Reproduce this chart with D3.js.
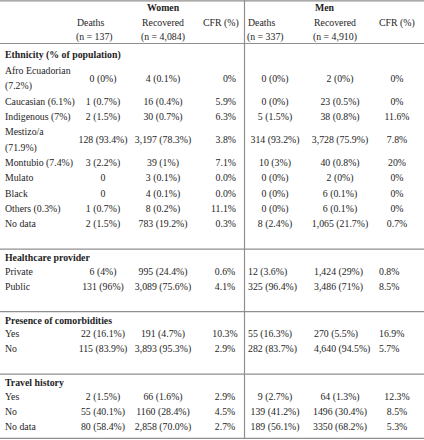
<!DOCTYPE html>
<html>
<head>
<meta charset="utf-8">
<script src="https://cdn.jsdelivr.net/npm/d3@7"></script>
<style>
  html, body { margin: 0; padding: 0; background: #fff; }
  svg { display: block; }
  text { font-family: "Liberation Serif", "Times New Roman", serif; font-size: 9.8px; fill: #1e1e1e; }
  .b { font-weight: bold; }
</style>
</head>
<body>
<svg id="chart" width="424" height="440"></svg>
<script>
// ---------- data ----------
const groups = ["Women", "Men"];
const measures = ["Deaths", "Recovered", "CFR (%)"];
const nLabels = ["(n = 137)", "(n = 4,084)", "", "(n = 337)", "(n = 4,910)", ""];
const sections = ["Ethnicity (% of population)", "Healthcare provider", "Presence of comorbidities", "Travel history"];

const ethnicityRows = ["Afro Ecuadorian (7.2%)", "Caucasian (6.1%)", "Indigenous (7%)", "Mestizo/a (71.9%)", "Montubio (7.4%)", "Mulato", "Black", "Others (0.3%)", "No data"];
const ethWomenDeaths = ["0 (0%)", "1 (0.7%)", "2 (1.5%)", "128 (93.4%)", "3 (2.2%)", "0", "0", "1 (0.7%)", "2 (1.5%)"];
const ethWomenRecovered = ["4 (0.1%)", "16 (0.4%)", "30 (0.7%)", "3,197 (78.3%)", "39 (1%)", "3 (0.1%)", "4 (0.1%)", "8 (0.2%)", "783 (19.2%)"];
const ethWomenCFR = ["0%", "5.9%", "6.3%", "3.8%", "7.1%", "0.0%", "0.0%", "11.1%", "0.3%"];
const ethMenDeaths = ["0 (0%)", "0 (0%)", "5 (1.5%)", "314 (93.2%)", "10 (3%)", "0 (0%)", "0 (0%)", "0 (0%)", "8 (2.4%)"];
const ethMenRecovered = ["2 (0%)", "23 (0.5%)", "38 (0.8%)", "3,728 (75.9%)", "40 (0.8%)", "2 (0%)", "6 (0.1%)", "6 (0.1%)", "1,065 (21.7%)"];
const ethMenCFR = ["0%", "0%", "11.6%", "7.8%", "20%", "0%", "0%", "0%", "0.7%"];

const providerRows = ["Private", "Public"];
const provWomenDeaths = ["6 (4%)", "131 (96%)"];
const provWomenRecovered = ["995 (24.4%)", "3,089 (75.6%)"];
const provWomenCFR = ["0.6%", "4.1%"];
const provMenDeaths = ["12 (3.6%)", "325 (96.4%)"];
const provMenRecovered = ["1,424 (29%)", "3,486 (71%)"];
const provMenCFR = ["0.8%", "8.5%"];

const comorbRows = ["Yes", "No"];
const comWomenDeaths = ["22 (16.1%)", "115 (83.9%)"];
const comWomenRecovered = ["191 (4.7%)", "3,893 (95.3%)"];
const comWomenCFR = ["10.3%", "2.9%"];
const comMenDeaths = ["55 (16.3%)", "282 (83.7%)"];
const comMenRecovered = ["270 (5.5%)", "4,640 (94.5%)"];
const comMenCFR = ["16.9%", "5.7%"];

const travelRows = ["Yes", "No", "No data"];
const trvWomenDeaths = ["2 (1.5%)", "55 (40.1%)", "80 (58.4%)"];
const trvWomenRecovered = ["66 (1.6%)", "1160 (28.4%)", "2,858 (70.0%)"];
const trvWomenCFR = ["2.9%", "4.5%", "2.7%"];
const trvMenDeaths = ["9 (2.7%)", "139 (41.2%)", "189 (56.1%)"];
const trvMenRecovered = ["64 (1.3%)", "1496 (30.4%)", "3350 (68.2%)"];
const trvMenCFR = ["12.3%", "8.5%", "5.3%"];

// ---------- table model built from the arrays ----------
const table = [
  { title: sections[0], rows: ethnicityRows, cols: [ethWomenDeaths, ethWomenRecovered, ethWomenCFR, ethMenDeaths, ethMenRecovered, ethMenCFR] },
  { title: sections[1], rows: providerRows, cols: [provWomenDeaths, provWomenRecovered, provWomenCFR, provMenDeaths, provMenRecovered, provMenCFR] },
  { title: sections[2], rows: comorbRows, cols: [comWomenDeaths, comWomenRecovered, comWomenCFR, comMenDeaths, comMenRecovered, comMenCFR] },
  { title: sections[3], rows: travelRows, cols: [trvWomenDeaths, trvWomenRecovered, trvWomenCFR, trvMenDeaths, trvMenRecovered, trvMenCFR] }
];

// ---------- layout ----------
const W = 424, H = 440;
const svg = d3.select("#chart");
const colKeys = d3.range(6);
const xCenter = d3.scaleOrdinal().domain(colKeys).range([103, 163, 225, 275, 340, 397]);
const xLeft = d3.scaleOrdinal().domain(colKeys).range([77, 142, 203, 248, 314, 379]);
const xGroup = d3.scaleOrdinal().domain(groups).range([147, 315]);
const divider = 244.5;
const labelX = 5;
const wrapChars = 16;
const lineColor = "#8f8f8f";

function hline(y) {
  svg.append("line").attr("x1", 0).attr("x2", W).attr("y1", y).attr("y2", y)
    .attr("stroke", lineColor).attr("stroke-width", 1.2);
}

// header
hline(0.8);
groups.forEach(g => svg.append("text").attr("class", "b").attr("x", xGroup(g)).attr("y", 7)
  .attr("dominant-baseline", "central").text(g));
colKeys.forEach(i => {
  svg.append("text").attr("x", xLeft(i)).attr("y", 22.5).attr("dominant-baseline", "central").text(measures[i % 3]);
  if (nLabels[i]) svg.append("text").attr("x", xLeft(i) - 1).attr("y", 36).attr("dominant-baseline", "central").text(nLabels[i]);
});
hline(43.5);

// body
const step = 15.3;
let y = 43.5;
table.forEach((sec, si) => {
  const headerY = si === 0 ? y + 10.5 : y + 8.5;
  svg.append("text").attr("class", "b").attr("x", labelX).attr("y", headerY)
    .attr("dominant-baseline", "central").text(sec.title);
  let top = headerY + (si === 0 ? 9 : 6);
  let lastCenter = headerY;
  sec.rows.forEach((label, ri) => {
    // long labels wrap onto two lines (break before the bracketed share)
    let lines = [label];
    if (label.length > wrapChars) {
      const k = label.lastIndexOf(" ");
      lines = [label.slice(0, k), label.slice(k + 1)];
    }
    const rowStep = si === 0 ? step : 15;
    const h = lines.length * rowStep;
    const center = top + h / 2;
    lines.forEach((ln, li) => {
      svg.append("text").attr("x", labelX).attr("y", top + rowStep * (li + 0.5))
        .attr("dominant-baseline", "central").text(ln);
    });
    sec.cols.forEach((vals, ci) => {
      let anchor = "middle", x = xCenter(ci);
      if ((si === 1 || si === 2) && ci >= 3) { anchor = "start"; x = xLeft(ci); }
      if (si === 0 && ci === 2) { anchor = "end"; x = 236; }
      svg.append("text").attr("x", x).attr("y", center).attr("text-anchor", anchor)
        .attr("dominant-baseline", "central").text(vals[ri]);
    });
    top += h;
    lastCenter = center;
  });
  y = lastCenter + 25.5;
  if (si < table.length - 1) hline(y);
});
hline(438.3);

// vertical divider between Women and Men
svg.append("line").attr("x1", divider).attr("x2", divider).attr("y1", 0).attr("y2", 438)
  .attr("stroke", lineColor).attr("stroke-width", 1.2);
</script>
</body>
</html>
